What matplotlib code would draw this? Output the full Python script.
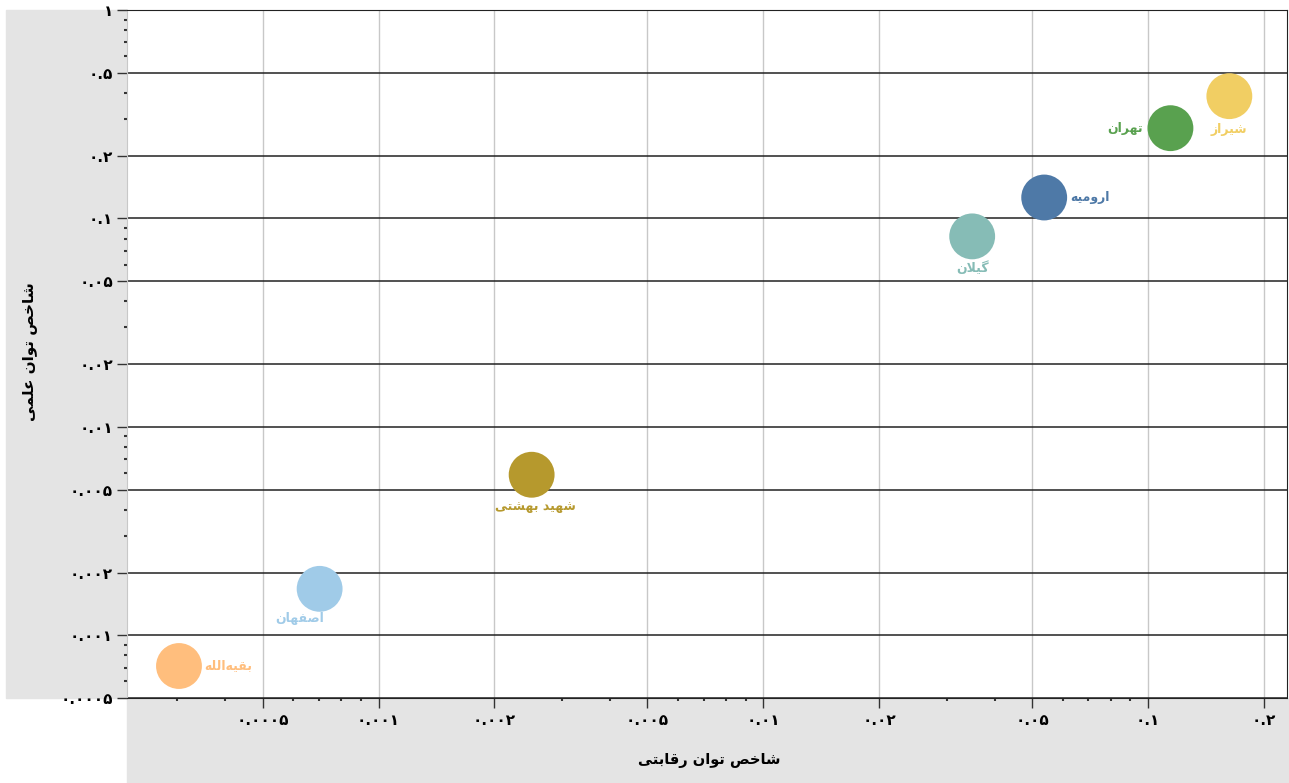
import matplotlib
matplotlib.use("Agg")
import matplotlib.pyplot as plt
from matplotlib.patches import Rectangle
from matplotlib.ticker import FixedLocator, FuncFormatter, LogLocator, NullFormatter

# data
names = ["بقیه\u200cالله", "اصفهان", "شهید بهشتی", "گیلان", "ارومیه", "تهران", "شیراز"]
competitive = [0.000303, 0.000703, 0.00250, 0.0349, 0.0537, 0.1143, 0.1626]
scientific = [0.000712, 0.00167, 0.00589, 0.082, 0.126, 0.271, 0.386]
colors = ["#FFBE7D", "#A0CBE8", "#B6992D", "#86BCB6", "#4E79A7", "#59A14F", "#F1CE63"]
x_ticks = [0.0005, 0.001, 0.002, 0.005, 0.01, 0.02, 0.05, 0.1, 0.2]
y_ticks = [0.0005, 0.001, 0.002, 0.005, 0.01, 0.02, 0.05, 0.1, 0.2, 0.5, 1]
x_title = "شاخص توان رقابتی"
y_title = "شاخص توان علمی"

# label placement (offset in points, alignment)
label_pos = [((18, 0), "left", "center"),
             ((-14, -17), "center", "top"),
             ((3, -18), "center", "top"),
             ((0, -18), "center", "top"),
             ((19, 0), "left", "center"),
             ((-20, 0), "right", "center"),
             ((0, -19), "center", "top")]

# minimal arabic shaping (matplotlib has no complex text layout)
FORMS = {
    "ا": ("\uFE8D", "\uFE8E"), "ب": ("\uFE8F", "\uFE90", "\uFE91", "\uFE92"),
    "ت": ("\uFE95", "\uFE96", "\uFE97", "\uFE98"), "خ": ("\uFEA5", "\uFEA6", "\uFEA7", "\uFEA8"),
    "د": ("\uFEA9", "\uFEAA"), "ر": ("\uFEAD", "\uFEAE"), "ز": ("\uFEAF", "\uFEB0"),
    "ش": ("\uFEB5", "\uFEB6", "\uFEB7", "\uFEB8"), "ص": ("\uFEB9", "\uFEBA", "\uFEBB", "\uFEBC"),
    "ع": ("\uFEC9", "\uFECA", "\uFECB", "\uFECC"), "ف": ("\uFED1", "\uFED2", "\uFED3", "\uFED4"),
    "ق": ("\uFED5", "\uFED6", "\uFED7", "\uFED8"), "ل": ("\uFEDD", "\uFEDE", "\uFEDF", "\uFEE0"),
    "م": ("\uFEE1", "\uFEE2", "\uFEE3", "\uFEE4"), "ن": ("\uFEE5", "\uFEE6", "\uFEE7", "\uFEE8"),
    "ه": ("\uFEE9", "\uFEEA", "\uFEEB", "\uFEEC"), "و": ("\uFEED", "\uFEEE"),
    "ی": ("\uFBFC", "\uFBFD", "\uFEF3", "\uFEF4"), "گ": ("\uFB92", "\uFB93", "\uFB94", "\uFB95"),
}


def shape(text):
    out = []
    i = 0
    while i < len(text):
        c = text[i]
        if c not in FORMS:
            if c != "\u200c":
                out.append(c)
            i += 1
            continue
        prev = text[i - 1] if i > 0 else None
        joins_prev = prev in FORMS and len(FORMS[prev]) == 4
        if c == "ل" and i + 1 < len(text) and text[i + 1] == "ا":
            out.append("\uFEFC" if joins_prev else "\uFEFB")
            i += 2
            continue
        nxt = text[i + 1] if i + 1 < len(text) else None
        f = FORMS[c]
        joins_next = len(f) == 4 and nxt in FORMS
        if joins_prev and joins_next:
            out.append(f[3])
        elif joins_prev:
            out.append(f[1])
        elif joins_next:
            out.append(f[2])
        else:
            out.append(f[0])
        i += 1
    return "".join(reversed(out))


def fa_num(v, pos=None):
    s = ("%.4f" % v).rstrip("0").rstrip(".")
    return s.translate(str.maketrans("0123456789", "۰۱۲۳۴۵۶۷۸۹"))


plt.rcParams["font.family"] = ["DejaVu Sans"]

fig = plt.figure(figsize=(12.89, 7.83), dpi=100)
fig.patches.append(Rectangle((6 / 1289, 85 / 783), 121 / 1289, 688 / 783,
                             transform=fig.transFigure, color="#e4e4e4", zorder=-5))
fig.patches.append(Rectangle((127 / 1289, 0), 1162 / 1289, 84 / 783,
                             transform=fig.transFigure, color="#e4e4e4", zorder=-5))

ax = fig.add_axes([127 / 1289, 85 / 783, 1160 / 1289, 688 / 783])
ax.set_zorder(2)
ax.set_xscale("log")
ax.set_yscale("log")
ax.set_xlim(0.000222, 0.2296)
ax.set_ylim(0.0005, 1)

ax.xaxis.set_major_locator(FixedLocator(x_ticks))
ax.yaxis.set_major_locator(FixedLocator(y_ticks))
ax.xaxis.set_major_formatter(FuncFormatter(fa_num))
ax.yaxis.set_major_formatter(FuncFormatter(fa_num))
ax.xaxis.set_minor_locator(LogLocator(subs=(3, 4, 6, 7, 8, 9), numticks=20))
ax.yaxis.set_minor_locator(LogLocator(subs=(3, 4, 6, 7, 8, 9), numticks=20))
ax.xaxis.set_minor_formatter(NullFormatter())
ax.yaxis.set_minor_formatter(NullFormatter())

ax.tick_params(which="major", length=7, width=1, color="#333333", labelsize=11)
ax.tick_params(axis="y", which="major", pad=3)
ax.tick_params(axis="x", which="major", pad=4)
ax.tick_params(which="minor", length=2, width=1.5, color="#333333")
for lab in ax.get_xticklabels() + ax.get_yticklabels():
    lab.set_fontweight("bold")

ax.grid(True, axis="x", which="major", color="#c8c8c8", linewidth=1)
ax.grid(True, axis="y", which="major", color="#222222", linewidth=1.1)
ax.set_axisbelow(True)

for side in ["top", "right", "bottom"]:
    ax.spines[side].set_color("#222222")
ax.spines["left"].set_color("#c8c8c8")

ax.scatter(competitive, scientific, s=1090, c=colors, linewidths=0, zorder=3)

for name, x, y, col, (off, ha, va) in zip(names, competitive, scientific, colors, label_pos):
    ax.annotate(shape(name), (x, y), xytext=off, textcoords="offset points",
                ha=ha, va=va, color=col, fontsize=9, fontweight="bold", zorder=4)

fig.text(709 / 1289, 1 - 761 / 783, shape(x_title), ha="center", va="center",
         fontsize=10.5, fontweight="bold")
fig.text(30 / 1289, 1 - 352 / 783, shape(y_title), ha="center", va="center",
         rotation=90, fontsize=11, fontweight="bold")

fig.savefig("out.png", dpi=100)
